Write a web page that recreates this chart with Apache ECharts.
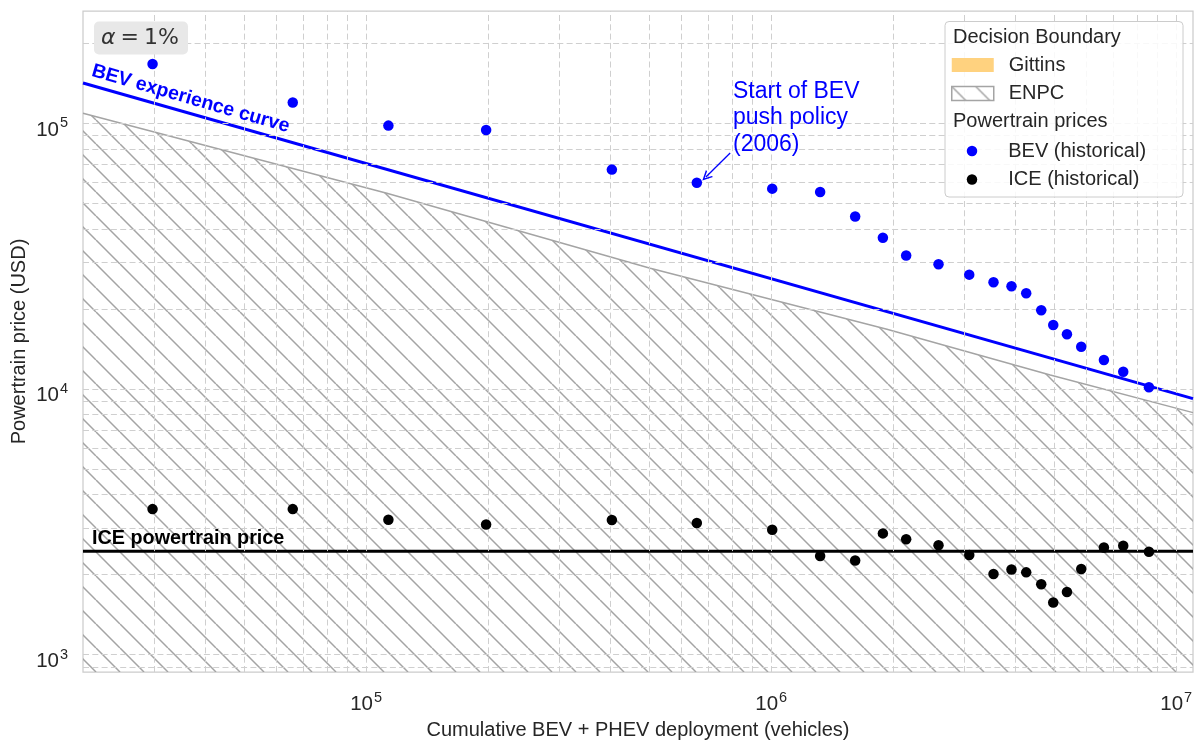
<!DOCTYPE html>
<html>
<head>
<meta charset="utf-8">
<script src="https://cdn.jsdelivr.net/npm/echarts@6/dist/echarts.min.js"></script>
<style>
html, body { margin: 0; padding: 0; background: #fff; }
#main { width: 1196px; height: 742px; }
</style>
</head>
<body>
<div id="main"></div>
<script>
// cumulative BEV + PHEV deployment (vehicles), one value per year
var deployment = [29700, 65900, 113500, 197800, 404300, 655300, 1006000, 1321000, 1612000, 1887000, 2154000, 2589000,
                  3083000, 3539000, 3920000, 4262000, 4642000, 4970000, 5373000, 5827000, 6629000, 7399000, 8563000];
// powertrain prices (USD)
var bevPrice = [167500, 119800, 98100, 94500, 67000, 59800, 56800, 55200, 44600, 37100, 31800, 29500,
                26950, 25230, 24370, 22930, 19790, 17420, 16070, 14430, 12860, 11620, 10150];
var icePrice = [3530, 3530, 3220, 3090, 3210, 3130, 2950, 2350, 2260, 2860, 2720, 2580,
                2370, 2010, 2090, 2040, 1840, 1570, 1720, 2100, 2530, 2570, 2440];
// ENPC decision boundary
var enpcX = [20000, 112500, 502800, 1931000, 4886000, 11000000];
var enpcY = [109300, 54600, 28500, 16780, 11290, 8150];
// BEV experience curve
var curveX = [20000, 11000000];
var curveY = [142000, 9200];
var iceLevel = 2450;
// policy annotation arrow (from text to 2006 point)
var arrowFrom = [792000, 77400];
var arrowTo = [690000, 62800];
// gridlines (major + minor)
var xGrid = [30000, 40000, 50000, 60000, 70000, 80000, 90000, 100000,
             200000, 300000, 400000, 500000, 600000, 700000, 800000, 900000, 1000000,
             2000000, 3000000, 4000000, 5000000, 6000000, 7000000, 8000000, 9000000, 10000000];
var yGrid = [900, 1000, 2000, 3000, 4000, 5000, 6000, 7000, 8000, 9000, 10000,
             20000, 30000, 40000, 50000, 60000, 70000, 80000, 90000, 100000, 200000];

var FONT = 'Liberation Sans, Arial, sans-serif';
var TXT = '#262626';

function makeHatch(step, color, width) {
    var c = document.createElement('canvas');
    c.width = step; c.height = step;
    var g = c.getContext('2d');
    g.strokeStyle = color;
    g.lineWidth = width;
    g.beginPath();
    for (var k = -1; k <= 1; k++) {
        g.moveTo(k * step, 0);
        g.lineTo(k * step + step, step);
    }
    g.stroke();
    return c;
}
var hatch = makeHatch(24, '#a4a4a4', 1.5);

function pairs(xs, ys) {
    return xs.map(function (x, i) { return [x, ys[i]]; });
}

function powLabel(v) {
    var e = Math.round(Math.log10(v));
    if (Math.abs(Math.log10(v) - e) > 1e-6) return '';
    return '{base|10}{sup|' + e + '}';
}
var powRich = {
    base: {fontSize: 20.5, fontFamily: FONT, color: TXT, lineHeight: 20, verticalAlign: 'bottom'},
    sup: {fontSize: 14.5, fontFamily: FONT, color: TXT, lineHeight: 14, padding: [0, 0, 14, 1]}
};

var gridLineStyle = {type: [6, 3.3], color: '#cfcfcf', width: 1};
var legendText = {fontSize: 20, fontFamily: FONT, color: TXT, lineHeight: 20};

var option = {
    animation: false,
    backgroundColor: '#fff',
    grid: {left: 83, right: 3, top: 11, bottom: 70, show: true, borderColor: '#cccccc', borderWidth: 1.25,
           outerBoundsMode: 'none'},
    xAxis: {
        type: 'log', logBase: 10, min: 20000, max: 11000000,
        axisLine: {show: false}, axisTick: {show: false}, splitLine: {show: false},
        axisLabel: {formatter: powLabel, rich: powRich, fontSize: 20.5, fontFamily: FONT, color: TXT,
                    margin: 23, showMinLabel: true, showMaxLabel: true, hideOverlap: false},
        name: 'Cumulative BEV + PHEV deployment (vehicles)', nameLocation: 'middle', nameGap: 48,
        nameMoveOverlap: false,
        nameTextStyle: {fontSize: 20, fontFamily: FONT, color: TXT}
    },
    yAxis: {
        type: 'log', logBase: 10, min: 860, max: 265000,
        axisLine: {show: false}, axisTick: {show: false}, splitLine: {show: false},
        axisLabel: {formatter: powLabel, rich: powRich, fontSize: 20.5, fontFamily: FONT, color: TXT,
                    margin: 15, padding: [14, 0, 0, 0], hideOverlap: false},
        name: 'Powertrain price (USD)', nameLocation: 'middle', nameGap: 54,
        nameMoveOverlap: false,
        nameTextStyle: {fontSize: 20, fontFamily: FONT, color: TXT}
    },
    legend: [
        {
            orient: 'vertical', left: 951, top: 55, padding: 0, itemWidth: 42, itemHeight: 14, itemGap: 8.5,
            selectedMode: false, z: 12,
            textStyle: Object.assign({padding: [0, 0, 0, 10]}, legendText),
            data: [
                {name: 'Gittins', icon: 'rect', itemStyle: {color: '#ffd27f', borderWidth: 0}},
                {name: 'ENPC', icon: 'rect', itemStyle: {color: {image: hatch, repeat: 'repeat'}, borderColor: '#a4a4a4', borderWidth: 1.5}}
            ]
        },
        {
            orient: 'vertical', left: 966.75, top: 141, padding: 0, itemWidth: 10.5, itemHeight: 10.5, itemGap: 8.5,
            selectedMode: false, z: 12,
            textStyle: Object.assign({padding: [0, 0, 0, 26]}, legendText),
            data: ['BEV (historical)', 'ICE (historical)']
        }
    ],
    graphic: [
        {type: 'rect', shape: {x: 945, y: 21.5, width: 238, height: 175.5, r: 4}, z: 10,
         style: {fill: 'rgba(255,255,255,0.85)', stroke: '#cccccc', lineWidth: 1}},
        {type: 'text', x: 953, y: 37, z: 11,
         style: {text: 'Decision Boundary', fontSize: 20, fontFamily: FONT, fill: TXT, verticalAlign: 'middle'}},
        {type: 'text', x: 953, y: 121, z: 11,
         style: {text: 'Powertrain prices', fontSize: 20, fontFamily: FONT, fill: TXT, verticalAlign: 'middle'}},
        {type: 'rect', shape: {x: 94, y: 21.5, width: 94, height: 33, r: 5}, z: 10,
         style: {fill: '#e8e8e8'}},
        {type: 'text', x: 101, y: 38, z: 11,
         style: {text: '{i|α}{e|=}1%', fontSize: 22, fontFamily: 'DejaVu Sans', fill: '#333', verticalAlign: 'middle',
                 rich: {i: {fontStyle: 'italic', fontSize: 22, fontFamily: 'DejaVu Sans', fill: '#333'},
                        e: {fontSize: 22, fontFamily: 'DejaVu Sans', fill: '#333', padding: [0, 5, 0, 5]}}}},
        {type: 'text', x: 95, y: 61, rotation: -16 * Math.PI / 180, z: 11,
         style: {text: 'BEV experience curve', fontSize: 19.5, fontWeight: 'bold', fontFamily: FONT, fill: '#0000ff', verticalAlign: 'top'}},
        {type: 'text', x: 92, y: 539, z: 11,
         style: {text: 'ICE powertrain price', fontSize: 19.8, fontWeight: 'bold', fontFamily: FONT, fill: '#000', verticalAlign: 'middle'}},
        {type: 'text', x: 733, y: 78, z: 11,
         style: {text: 'Start of BEV\npush policy\n(2006)', fontSize: 23, lineHeight: 26.5, fontFamily: FONT, fill: '#0000ff', verticalAlign: 'top'}}
    ],
    series: [
        {
            name: 'grid', type: 'line', data: [], silent: true, z: 1,
            markLine: {
                silent: true, symbol: ['none', 'none'], label: {show: false}, lineStyle: gridLineStyle,
                emphasis: {disabled: true},
                data: xGrid.map(function (v) { return {xAxis: v}; })
                    .concat(yGrid.map(function (v) { return {yAxis: v}; }))
            }
        },
        {
            name: 'Gittins', type: 'line', data: [], color: '#ffd27f', areaStyle: {color: '#ffd27f'}
        },
        {
            name: 'ENPC', type: 'line', data: pairs(enpcX, enpcY), showSymbol: false, silent: true, z: 2,
            lineStyle: {color: '#a4a4a4', width: 1.5}, color: '#a4a4a4',
            areaStyle: {color: {image: hatch, repeat: 'repeat'}, origin: 'start', opacity: 1}
        },
        {
            name: 'BEV experience curve', type: 'line', data: pairs(curveX, curveY), showSymbol: false, silent: true, z: 3,
            lineStyle: {color: '#0000ff', width: 3}
        },
        {
            name: 'ICE powertrain price', type: 'line', data: pairs(curveX, [iceLevel, iceLevel]), showSymbol: false, silent: true, z: 3,
            lineStyle: {color: '#000', width: 3}
        },
        {
            name: 'annotation', type: 'line', data: [], silent: true, z: 4,
            markLine: {
                silent: true, label: {show: false}, emphasis: {disabled: true},
                lineStyle: {color: '#0000ff', width: 1.3, type: 'solid'},
                symbol: ['none', 'path://M0,10 L5,0 L10,10 L8.4,10 L5,3.2 L1.6,10 Z'], symbolSize: [10, 10],
                data: [[{coord: arrowFrom}, {coord: arrowTo}]]
            }
        },
        {
            name: 'BEV (historical)', type: 'scatter', data: pairs(deployment, bevPrice), symbolSize: 10.5, z: 5,
            itemStyle: {color: '#0000ff', opacity: 1}
        },
        {
            name: 'ICE (historical)', type: 'scatter', data: pairs(deployment, icePrice), symbolSize: 10.5, z: 5,
            itemStyle: {color: '#000000', opacity: 1}
        }
    ]
};

var myChart = echarts.init(document.getElementById('main'));
myChart.setOption(option);
</script>
</body>
</html>
